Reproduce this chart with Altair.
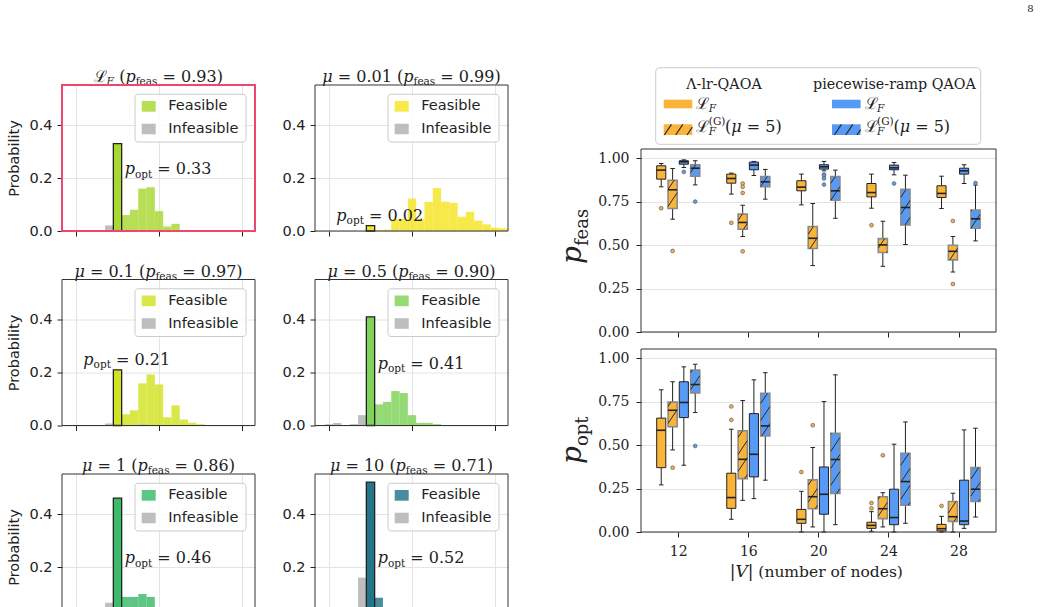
import math
import re

import altair as alt
import pandas as pd

SANS = "DejaVu Sans"
SERIF = "DejaVu Serif"
INK = "#222222"
GRID = "#e4e4e4"
ORANGE = "#fbb43a"
BLUE = "#579af5"
GRAY_BAR = "#bebebe"
HILITE = "#f0466e"

# ---------------------------------------------------------------- histograms
# Energy bins are indexed relative to the optimal-energy bin (index 0).
BIN_W = 0.1
OPT_LEFT = 0.45
HX = [-0.1687, 2.1566]
HY = [0.0, 0.551]
HW, HH = 193, 146

MU_LABELS = ["", "0.01", "0.1", "0.5", "1", "10"]
P_FEAS = [0.93, 0.99, 0.97, 0.90, 0.86, 0.71]
P_OPT = [0.33, 0.02, 0.21, 0.41, 0.46, 0.52]
# feasible probabilities of the bins following the optimal one
FEAS_TAIL = [
    [0.06, 0.08, 0.16, 0.165, 0.075, 0.017, 0.027, 0.004, 0.003],
    [0.003, 0.005, 0.045, 0.045, 0.1225, 0.045, 0.11, 0.1625, 0.11, 0.106,
     0.054, 0.0725, 0.039, 0.025, 0.0125, 0.01],
    [0.0425, 0.0575, 0.159, 0.1925, 0.155, 0.031, 0.076, 0.0225, 0.01, 0.005],
    [0.08, 0.089, 0.13, 0.1225, 0.039, 0.01, 0.01, 0.005],
    [0.087, 0.087, 0.098, 0.087, 0.03, 0.012],
    [0.084, 0.045, 0.035, 0.02],
]
INFEAS_BINS = [[-4, -1], [], [-1, 3], [-5, -4, -2, -1], [-3, -2, -1], [-4, -3, -2, -1]]
INFEAS_P = [[0.003, 0.021], [], [0.0075, 0.004], [0.005, 0.009, 0.005, 0.039],
            [0.015, 0.03, 0.065], [0.03, 0.04, 0.045, 0.16]]
HIST_COLORS = ["#a5d62a", "#f5e41c", "#d0e11c", "#7ad151", "#35b865", "#1b6f82"]

# ---------------------------------------------------------------- box plots
NODES = [12, 16, 20, 24, 28]
SERIES = ["lr", "lr_G", "pw", "pw_G"]
OFFSETS = [-0.97, -0.32, 0.32, 0.97]
SERIES_FILL = {"lr": ORANGE, "lr_G": ORANGE, "pw": BLUE, "pw_G": BLUE}

# (lower whisker, Q1, median, Q3, upper whisker) per node count
FEAS_STATS = {
    "lr":   [(0.835, 0.879, 0.931, 0.956, 0.969), (0.793, 0.856, 0.883, 0.908, 0.914),
             (0.731, 0.812, 0.833, 0.870, 0.908), (0.712, 0.777, 0.802, 0.854, 0.908),
             (0.710, 0.774, 0.797, 0.841, 0.896)],
    "lr_G": [(0.649, 0.710, 0.818, 0.873, 0.940), (0.549, 0.591, 0.630, 0.678, 0.729),
             (0.382, 0.480, 0.539, 0.607, 0.739), (0.378, 0.457, 0.501, 0.537, 0.637),
             (0.345, 0.415, 0.464, 0.499, 0.549)],
    "pw":   [(0.946, 0.965, 0.979, 0.985, 0.990), (0.900, 0.933, 0.960, 0.977, 0.981),
             (0.927, 0.937, 0.950, 0.962, 0.981), (0.904, 0.933, 0.944, 0.960, 0.975),
             (0.854, 0.908, 0.927, 0.942, 0.962)],
    "pw_G": [(0.846, 0.896, 0.942, 0.962, 0.985), (0.764, 0.835, 0.864, 0.894, 0.935),
             (0.654, 0.758, 0.812, 0.894, 0.931), (0.503, 0.616, 0.716, 0.821, 0.902),
             (0.524, 0.597, 0.651, 0.702, 0.845)],
}
FEAS_OUT = {
    "lr": {12: [0.712], 16: [0.628], 24: [0.614]},
    "lr_G": {12: [0.466], 16: [0.854, 0.835, 0.80, 0.464], 28: [0.639, 0.276]},
    "pw": {12: [0.921], 20: [0.906, 0.90, 0.883, 0.848], 24: [0.854]},
    "pw_G": {12: [0.75], 28: [0.857]},
}
OPT_STATS = {
    "lr":   [(0.271, 0.370, 0.585, 0.655, 0.818), (0.073, 0.136, 0.198, 0.338, 0.591),
             (0.0, 0.050, 0.073, 0.130, 0.234), (0.004, 0.021, 0.038, 0.056, 0.117),
             (0.0, 0.006, 0.019, 0.044, 0.090)],
    "lr_G": [(0.472, 0.605, 0.700, 0.747, 0.864), (0.182, 0.307, 0.418, 0.582, 0.756),
             (0.029, 0.134, 0.203, 0.300, 0.486), (0.029, 0.077, 0.134, 0.203, 0.226),
             (0.0, 0.061, 0.088, 0.175, 0.223)],
    "pw":   [(0.384, 0.658, 0.745, 0.864, 0.950), (0.192, 0.317, 0.447, 0.681, 0.875),
             (0.0, 0.102, 0.217, 0.374, 0.750), (0.0, 0.042, 0.083, 0.246, 0.505),
             (0.021, 0.042, 0.063, 0.298, 0.587)],
    "pw_G": [(0.687, 0.800, 0.848, 0.931, 0.965), (0.298, 0.553, 0.610, 0.798, 0.916),
             (0.042, 0.221, 0.417, 0.568, 0.904), (0.050, 0.154, 0.290, 0.453, 0.633),
             (0.086, 0.175, 0.246, 0.370, 0.597)],
}
OPT_OUT = {
    "lr": {16: [0.645, 0.722], 20: [0.345], 24: [0.167, 0.136], 28: [0.15]},
    "lr_G": {12: [0.37], 20: [0.614], 24: [0.441]},
    "pw": {},
    "pw_G": {12: [0.495]},
}

BX = [9.875, 30.14]
BY = [0.0, 1.0525]
BW, BH = 355, 183
BOX_HALF = 0.26
CAP_HALF = 0.13
HATCH_SLOPE = 1.5
HATCH_GAP = 17.0

ONE = pd.DataFrame({"k": [0]})

# approximate advance widths (em) of the serif face, used to chain text runs
EM = {" ": .318, ".": .318, "(": .390, ")": .390, "=": .838, "-": .338, "|": .337,
      "a": .596, "b": .640, "c": .560, "d": .640, "e": .592, "f": .370, "i": .320,
      "l": .320, "m": .948, "n": .644, "o": .602, "p": .640, "r": .478, "s": .513,
      "t": .402, "u": .644, "w": .856, "A": .722, "F": .722, "G": .775, "O": .787,
      "Q": .787, "V": .722, "Λ": .722, "μ": .650, "ℒ": .780}
for _d in "0123456789":
    EM[_d] = .636


def text_w(s, size):
    return size * sum(EM.get(c, .6) for c in s)


def math_layers(pieces, x0, y0, anchor="left", angle=0, color=INK):
    """Chain runs of (text, size, italic, baseline shift[, advances]) into text marks."""
    runs = [p if len(p) == 5 else tuple(p) + (True,) for p in pieces]
    total = 0.0
    for t, s, it, sh, adv in runs:
        if adv:
            total += text_w(t, s)
    off = -total / 2 if anchor == "center" else 0.0
    out = []
    for t, s, it, sh, adv in runs:
        start = off
        for tok in re.findall(r"\s+|\S+", t):
            if not tok.isspace():
                if angle:
                    px, py = x0 + sh, y0 - off
                else:
                    px, py = x0 + off, y0 + sh
                kw = dict(text=tok, font=SERIF, fontSize=s, align="left",
                          baseline="alphabetic", color=color)
                if it:
                    kw["fontStyle"] = "italic"
                if angle:
                    kw["angle"] = angle
                out.append(alt.Chart(ONE).mark_text(**kw).encode(
                    x=alt.value(px), y=alt.value(py)))
            off += text_w(tok, s)
        if not adv:
            off = start
    return out


def rect_px(x0, x1, y0, y1, **mark):
    return alt.Chart(ONE).mark_rect(**mark).encode(
        x=alt.value(x0), x2=alt.value(x1), y=alt.value(y0), y2=alt.value(y1))


def spacer(x0, x1, y0, y1):
    # empty block that fixes the extent a panel occupies in the layout
    return rect_px(x0, x1, y0, y1, fill="transparent")


def hatch(u0, u1, v0, v1):
    """Diagonal '/' hatch segments clipped to a box (y pointing up)."""
    segs = []
    k0 = math.floor((v0 - HATCH_SLOPE * u1) / HATCH_GAP)
    k1 = math.ceil((v1 - HATCH_SLOPE * u0) / HATCH_GAP)
    for k in range(k0, k1 + 1):
        c = k * HATCH_GAP
        a = max(u0, (v0 - c) / HATCH_SLOPE)
        b = min(u1, (v1 - c) / HATCH_SLOPE)
        if b - a > 0.4:
            segs.append((a, HATCH_SLOPE * a + c, b, HATCH_SLOPE * b + c))
    return segs


# ---------------------------------------------------------------- panels
def make_hist(i):
    col, row = i % 2, i // 2
    color = HIST_COLORS[i]
    feas = pd.DataFrame({"j": list(range(len(FEAS_TAIL[i]) + 1)),
                         "p": [P_OPT[i]] + FEAS_TAIL[i]})
    inf = pd.DataFrame({"j": INFEAS_BINS[i], "p": INFEAS_P[i]})
    for d in (feas, inf):
        d["x0"] = OPT_LEFT + BIN_W * d["j"]
        d["x1"] = d["x0"] + BIN_W
        d["base"] = 0.0
    opt = feas[feas["j"] == 0]

    xs = alt.Scale(domain=HX, nice=False, zero=False)
    ys = alt.Scale(domain=HY, nice=False, zero=False)
    xa = alt.Axis(values=[0, 1, 2], labels=False, tickSize=5, grid=True,
                  gridColor=GRID, domain=False, title=None)
    ya = alt.Axis(values=[0, 0.2, 0.4], format=".1f", labelFont=SANS,
                  labelFontSize=14.5, labelPadding=5, tickSize=5, grid=True,
                  gridColor=GRID, domain=False,
                  title="Probability" if col == 0 else None,
                  titleFont=SANS, titleFontSize=14.5, titleFontWeight="normal",
                  titleColor=INK, titlePadding=7)

    def enc(ch):
        return ch.encode(x=alt.X("x0:Q", scale=xs, axis=xa), x2="x1:Q",
                         y=alt.Y("p:Q", scale=ys, axis=ya), y2="base:Q")

    layers = [
        spacer(-62 if col == 0 else -45, HW + 5, -84 if row == 0 else -25, HH + 8),
        enc(alt.Chart(feas).mark_rect(color=color, opacity=0.8)),
    ]
    if len(inf):
        layers.append(enc(alt.Chart(inf).mark_rect(color=GRAY_BAR)))
    layers.append(enc(alt.Chart(opt).mark_rect(color=color, opacity=0.8)))
    layers.append(enc(alt.Chart(opt).mark_rect(fill="transparent", stroke=INK,
                                               strokeWidth=1.3)))

    # legend
    layers.append(rect_px(73, 184, 9.3, 57, fill="white", fillOpacity=0.85,
                          stroke="#cccccc", strokeWidth=1, cornerRadius=3))
    layers.append(rect_px(79.7, 93.7, 16, 26.7, color=color, opacity=0.8))
    layers.append(rect_px(79.7, 93.7, 38.7, 49.3, color=GRAY_BAR))
    for lbl, yy in (("Feasible", 21.3), ("Infeasible", 44)):
        layers.append(alt.Chart(ONE).mark_text(
            text=lbl, font=SANS, fontSize=14.5, align="left", baseline="middle",
            color=INK).encode(x=alt.value(106.3), y=alt.value(yy)))

    # p_opt annotation next to (or above) the optimal bar
    def px_x(v):
        return (v - HX[0]) / (HX[1] - HX[0]) * HW

    def px_y(v):
        return HH - (v - HY[0]) / (HY[1] - HY[0]) * HH

    if P_OPT[i] >= 0.3:
        ax, ay = px_x(OPT_LEFT + BIN_W) + 3, px_y(0.215)
    else:
        ax, ay = px_x(OPT_LEFT) - 30, px_y(P_OPT[i]) - 5
    layers += math_layers([("p", 16, True, 0), ("opt", 10.5, False, 3.5),
                           (" = %.2f" % P_OPT[i], 16, False, 0)], ax, ay)

    # panel title
    if i == 0:
        head = [("ℒ", 16, False, 0), ("F", 10.5, True, 3)]
    else:
        head = [("μ", 16, True, 0), (" = %s" % MU_LABELS[i], 16, False, 0)]
    head += [(" (", 16, False, 0), ("p", 16, True, 0), ("feas", 10.5, False, 3),
             (" = %.2f)" % P_FEAS[i], 16, False, 0)]
    layers += math_layers(head, HW / 2, -3, anchor="center")

    frame_kw = dict(stroke=HILITE, strokeWidth=2) if i == 0 else dict(stroke="#333333", strokeWidth=1)
    layers.append(rect_px(0, HW, 0, HH, fill="transparent", **frame_kw))
    return alt.layer(*layers).properties(width=HW, height=HH)


def make_box(stats, outliers, show_labels, sub):
    rows, out_rows, hatch_rows = [], [], []
    sx = BW / (BX[1] - BX[0])
    sy = BH / (BY[1] - BY[0])
    for s_i, s in enumerate(SERIES):
        for n_i, n in enumerate(NODES):
            lo, q1, md, q3, hi = stats[s][n_i]
            xc = n + OFFSETS[s_i]
            rows.append(dict(series=s, hatched=s.endswith("_G"), fill=SERIES_FILL[s],
                             xc=xc, xl=xc - BOX_HALF, xr=xc + BOX_HALF,
                             cl=xc - CAP_HALF, cr=xc + CAP_HALF,
                             lo=lo, q1=q1, med=md, q3=q3, hi=hi))
            for v in outliers[s].get(n, []):
                out_rows.append(dict(x=xc, v=v, fill=SERIES_FILL[s]))
            if s.endswith("_G"):
                u0, u1 = (xc - BOX_HALF - BX[0]) * sx, (xc + BOX_HALF - BX[0]) * sx
                for a, va, b, vb in hatch(u0, u1, q1 * sy, q3 * sy):
                    hatch_rows.append(dict(hx0=BX[0] + a / sx, hy0=va / sy,
                                           hx1=BX[0] + b / sx, hy1=vb / sy))
    df = pd.DataFrame(rows)
    odf = pd.DataFrame(out_rows)
    hdf = pd.DataFrame(hatch_rows)

    xs = alt.Scale(domain=BX, nice=False, zero=False)
    ys = alt.Scale(domain=BY, nice=False, zero=False)
    xa = alt.Axis(values=NODES, labels=show_labels, labelFont=SERIF, labelFontSize=14,
                  labelPadding=7.5, tickSize=5, grid=False, domain=False, title=None)
    ya = alt.Axis(values=[0, 0.25, 0.5, 0.75, 1.0], format=".2f", labelFont=SERIF,
                  labelFontSize=14, labelPadding=7, tickSize=5, grid=True,
                  gridColor=GRID, domain=False, title=None)

    def X(f):
        return alt.X(f + ":Q", scale=xs, axis=xa)

    def Y(f):
        return alt.Y(f + ":Q", scale=ys, axis=ya)

    fill = alt.Fill("fill:N", scale=None)
    layers = [
        spacer(-95, BW, -2, BH + 13),
        alt.Chart(df).mark_rule(color=INK, strokeWidth=1).encode(x=X("xc"), y=Y("lo"), y2="q1:Q"),
        alt.Chart(df).mark_rule(color=INK, strokeWidth=1).encode(x=X("xc"), y=Y("q3"), y2="hi:Q"),
        alt.Chart(df).mark_rule(color=INK, strokeWidth=1).encode(x=X("cl"), x2="cr:Q", y=Y("lo")),
        alt.Chart(df).mark_rule(color=INK, strokeWidth=1).encode(x=X("cl"), x2="cr:Q", y=Y("hi")),
        alt.Chart(df[~df["hatched"]]).mark_rect(stroke=INK, strokeWidth=1).encode(
            x=X("xl"), x2="xr:Q", y=Y("q1"), y2="q3:Q", fill=fill),
        alt.Chart(df[df["hatched"]]).mark_rect(stroke="#8a8a8a", strokeWidth=1.6).encode(
            x=X("xl"), x2="xr:Q", y=Y("q1"), y2="q3:Q", fill=fill),
        alt.Chart(hdf).mark_rule(color="#2a2a2a", strokeWidth=1).encode(
            x=X("hx0"), x2="hx1:Q", y=Y("hy0"), y2="hy1:Q"),
        alt.Chart(df).mark_rule(color=INK, strokeWidth=1.6).encode(
            x=X("xl"), x2="xr:Q", y=Y("med")),
        alt.Chart(odf).mark_point(filled=True, shape="circle", size=14, opacity=1,
                                  stroke="#6b6b6b", strokeWidth=0.8).encode(
            x=X("x"), y=Y("v"), fill=fill),
        rect_px(0, BW, 0, BH, fill="transparent", stroke="#333333", strokeWidth=1),
    ]
    # rotated y label p_sub
    layers += math_layers([("p", 28, True, 0), (sub, 18, False, 7)], -60, 115,
                          angle=270)
    if show_labels:
        layers += math_layers([("|", 17, False, 0), ("V", 17, True, 0), ("|", 17, False, 0),
                               (" (number of nodes)", 15.5, False, 0)], 88.7, 227.5)
    return alt.layer(*layers).properties(width=BW, height=BH)


def make_legend():
    L = [spacer(-95, BW, -84, 60),
         rect_px(14.7, 339.7, -17.3, 59.3, fill="white", fillOpacity=0.85,
                 stroke="#cccccc", strokeWidth=1, cornerRadius=4)]
    L += math_layers([("Λ-lr-QAOA", 14.3, False, 0)], 82.5, 3.8, anchor="center")
    L += math_layers([("piecewise-ramp QAOA", 14.3, False, 0)], 253, 3.8, anchor="center")
    for x0, color in ((22.7, ORANGE), (191.0, BLUE)):
        L.append(rect_px(x0, x0 + 28.6, 14.7, 23.3, color=color))
        L.append(rect_px(x0, x0 + 28.6, 39.3, 50.0, color=color))
        for a, va, b, vb in hatch(x0, x0 + 28.6, -50.0, -39.3):
            L.append(alt.Chart(ONE).mark_rule(color="#2a2a2a", strokeWidth=1.2).encode(
                x=alt.value(a), x2=alt.value(b), y=alt.value(-va), y2=alt.value(-vb)))
        L += math_layers([("ℒ", 16, False, 0), ("F", 10.5, True, 3)], x0 + 32.6, 24)
        L += math_layers([("ℒ", 16, False, 0), ("F", 10.5, True, 3, False),
                          ("(G)", 10.5, False, -7), ("(", 16, False, 0),
                          ("μ", 16, True, 0), (" = 5)", 16, False, 0)], x0 + 32.6, 47)
    L += math_layers([("8", 10, False, 0)], 389.5, -73.3, anchor="center")
    return alt.layer(*L).properties(width=BW, height=47)


hists = [make_hist(i) for i in range(6)]
left = alt.vconcat(
    *[alt.hconcat(hists[2 * r], hists[2 * r + 1], spacing=8) for r in range(3)],
    spacing=13.5)
right = alt.vconcat(make_legend(),
                    make_box(FEAS_STATS, FEAS_OUT, False, "feas"),
                    make_box(OPT_STATS, OPT_OUT, True, "opt"),
                    spacing=0)

chart = alt.hconcat(left, right, spacing=31).properties(
    padding={"left": -1, "top": 0, "right": 2, "bottom": 2}
).configure_view(stroke="transparent").configure_axis(
    labelColor=INK, tickColor=INK, tickWidth=1)

chart.save("out.html", embed_options={"renderer": "svg", "actions": False})
